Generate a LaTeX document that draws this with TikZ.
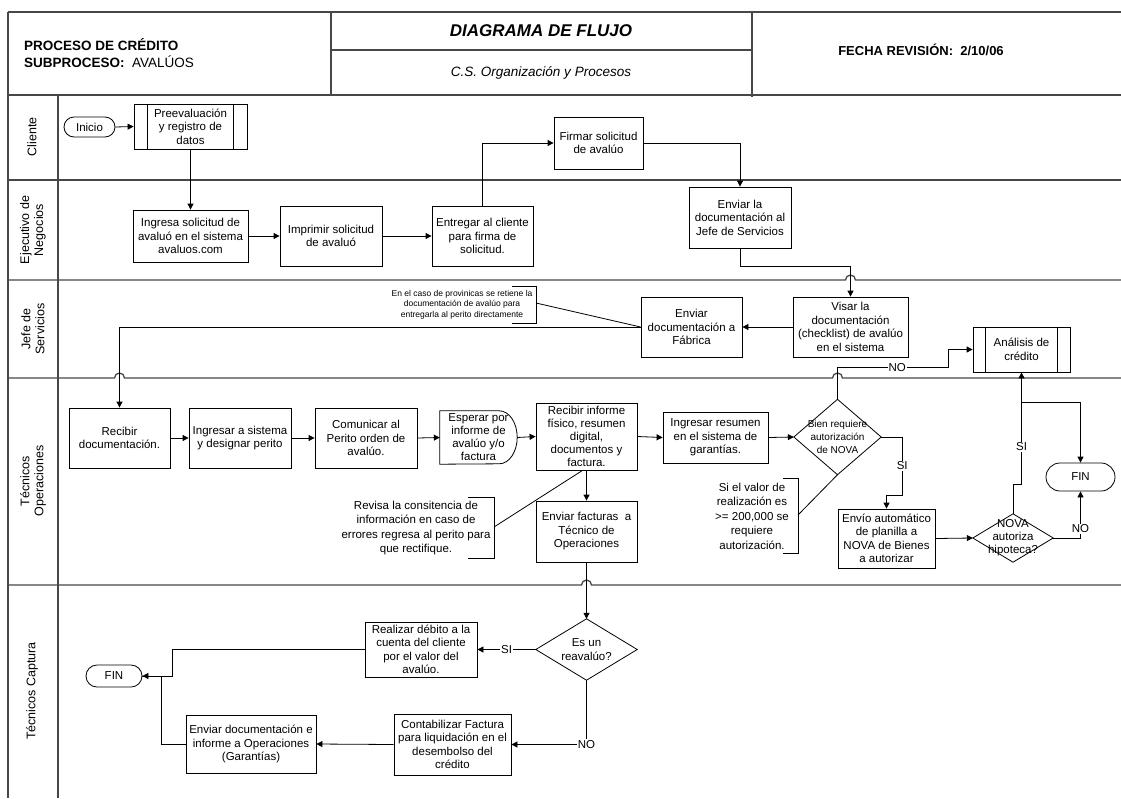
\documentclass[tikz,border=0pt]{standalone}
\usepackage{fontspec}
\setmainfont{Liberation Sans}
\usetikzlibrary{arrows.meta}
\newcommand{\myfs}[2]{\fontsize{#1pt}{#2pt}\selectfont}
% diamond outline drawn on the anchors of a plain node
\newcommand{\diamondof}[1]{\draw[shape line] (#1.north) -- (#1.east) -- (#1.south) -- (#1.west) -- cycle;}
% side bars of a predefined-process box
\newcommand{\sidebars}[2]{\draw[shape line] ([xshift=#2pt]#1.north west) -- ([xshift=#2pt]#1.south west)
  ([xshift=-#2pt]#1.north east) -- ([xshift=-#2pt]#1.south east);}
\begin{document}
\begin{tikzpicture}[x=1pt,y=-1pt,
  shape line/.style={line width=0.8pt, draw=black},
  frame/.style={line width=1.3pt, draw=black!72},
  box/.style={draw=black, line width=0.8pt, align=center, inner sep=0pt, font=\myfs{11.5}{13.5}},
  term/.style={box, rounded corners=10pt},
  plain/.style={align=center, inner sep=0pt, font=\myfs{10}{13}},
  arr/.style={draw=black, line width=0.8pt, -{Triangle[length=6pt,width=6pt]}},
  link/.style={draw=black, line width=0.8pt},
  lbl/.style={fill=white, inner sep=1pt, font=\myfs{11.5}{13}},
  lanelbl/.style={rotate=90, align=center, font=\myfs{12.5}{14}},
  note/.style={align=center, inner sep=0pt, font=\myfs{11.5}{14.5}}]

\useasboundingbox (0,0) rectangle (1121,798);

% ---------- header ----------
\draw[frame] (8,12) -- (1121,12);
\draw[frame] (8,12) -- (8,798);
\draw[frame] (331,12) -- (331,95);
\draw[frame] (752,12) -- (752,97);
\draw[frame] (331,50) -- (752,50);
\node[anchor=west, inner sep=0pt, font=\bfseries\myfs{13.5}{15}] (hproc) at (24,45) {PROCESO DE CRÉDITO};
\node[anchor=west, inner sep=0pt, font=\myfs{13.5}{15}] (hsub) at (24,62) {\textbf{SUBPROCESO:}\ \ AVALÚOS};
\node[font=\bfseries\itshape\myfs{17}{19}] (htitle) at (541,31) {DIAGRAMA DE FLUJO};
\node[font=\itshape\myfs{13.5}{15}] (horg) at (541,73) {C.S. Organización y Procesos};
\node[font=\bfseries\myfs{13}{15}] (hdate) at (921,50) {FECHA REVISIÓN:\ \ 2/10/06};

% ---------- swimlanes ----------
\draw[frame] (8,95) -- (1121,95);
\draw[frame] (8,180) -- (1121,180);
\draw[frame] (8,280) -- (845.5,280) arc[start angle=180,end angle=0,radius=5pt] -- (1121,280);
\draw[frame] (8,378) -- (114.5,378) arc[start angle=180,end angle=0,radius=5pt]
  -- (832.5,378) arc[start angle=180,end angle=0,radius=5pt] -- (1121,378);
\draw[frame] (8,585) -- (581.5,585) arc[start angle=180,end angle=0,radius=5pt] -- (1121,585);
\draw[frame] (58,95) -- (58,798);

\node[lanelbl] (l1) at (32,137) {Cliente};
\node[lanelbl] (l2) at (33,230) {Ejecutivo de\\Negocios};
\node[lanelbl] (l3) at (33,329) {Jefe de\\Servicios};
\node[lanelbl] (l4) at (33,481) {Técnicos\\Operaciones};
\node[lanelbl] (l5) at (32,691) {Técnicos Captura};

% ---------- Cliente ----------
\node[term, minimum width=51, minimum height=20] (ini) at (89.5,127) {Inicio};
\node[box, minimum width=113, minimum height=45] (pre) at (190.5,126.5) {Preevaluación\\y registro de\\datos};
\sidebars{pre}{14}
\node[box, minimum width=89, minimum height=52] (firm) at (598.5,143) {Firmar solicitud\\de avalúo};

% ---------- Ejecutivo de Negocios ----------
\node[box, minimum width=115, minimum height=52] (ingsol) at (190.5,236) {Ingresa solicitud de\\avaluó en el sistema\\avaluos.com};
\node[box, minimum width=102, minimum height=60] (impr) at (331,236) {Imprimir solicitud\\de avaluó};
\node[box, minimum width=101, minimum height=60] (entr) at (482.5,236) {Entregar al cliente\\para firma de\\solicitud.};
\node[box, minimum width=102, minimum height=61] (envj) at (740,217.5) {Enviar la\\documentación al\\Jefe de Servicios};

% ---------- Jefe de Servicios ----------
\node[box, minimum width=115, minimum height=60] (visar) at (850.5,327) {Visar la\\documentación\\(checklist) de avalúo\\en el sistema};
\node[box, minimum width=101, minimum height=60] (fab) at (691.5,327) {Enviar\\documentación a\\Fábrica};
\node[align=center, inner sep=0pt, font=\myfs{8.5}{10.3}] (nota1) at (462,304.5) {En el caso de provinicas se retiene la\\documentación de avalúo para\\entregarla al perito directamente};
\draw[link, line width=0.7pt] (512,286) -- (536,286) -- (536,323) -- (512,323);
\coordinate (n1) at (536,303);

% ---------- Tecnicos Operaciones ----------
\node[box, minimum width=101, minimum height=60] (recdoc) at (119.5,438) {Recibir\\documentación.};
\node[box, minimum width=102, minimum height=60] (ingsis) at (240,438) {Ingresar a sistema\\y designar perito};
\node[box, minimum width=102, minimum height=60] (comun) at (366,438) {Comunicar al\\Perito orden de\\avalúo.};
\node[align=center, inner sep=0pt, font=\myfs{11.5}{13}, minimum width=77, minimum height=53] (esp) at (478.5,437.5) {Esperar por\\informe de\\avalúo y/o\\factura};
\draw[shape line] (esp.north west) -- ([xshift=-18pt]esp.north east)
  arc[start angle=90,end angle=-90,x radius=18pt,y radius=26.5pt] -- (esp.south west) -- cycle;
\node[box, font=\myfs{11.5}{13}, minimum width=101, minimum height=67] (recinf) at (586.5,436.5) {Recibir informe\\físico, resumen\\digital,\\documentos y\\factura.};
\node[box, minimum width=105, minimum height=51] (ingres) at (715.5,437.5) {Ingresar resumen\\en el sistema de\\garantías.};
\node[plain, minimum width=87, minimum height=75] (bien) at (837.5,437) {Bien requiere\\autorización\\de NOVA};
\diamondof{bien}
\node[box, minimum width=97, minimum height=45] (anal) at (1021.5,349.5) {Análisis de\\crédito};
\sidebars{anal}{13}
\node[term, rounded corners=14pt, minimum width=69, minimum height=28] (fin1) at (1080.5,477) {FIN};
\node[plain, font=\myfs{11.5}{13}, minimum width=80, minimum height=48] (nova) at (1013,538) {NOVA\\autoriza\\hipoteca?};
\diamondof{nova}
\node[box, minimum width=97, minimum height=59] (envio) at (886.5,538.5) {Envío automático\\de planilla a\\NOVA de Bienes\\a autorizar};
\node[box, minimum width=101, minimum height=61] (envfact) at (586.5,531.5) {Enviar facturas\ \ a\\Técnico de\\Operaciones};
\node[note] (nota2) at (416,528) {Revisa la consitencia de\\información en caso de\\errores regresa al perito para\\que rectifique.};
\draw[link, line width=0.7pt] (468,497) -- (494,497) -- (494,558) -- (468,558);
\coordinate (n2) at (494,527);
\node[note] (nota3) at (752,516) {Si el valor de\\realización es\\>= 200,000 se\\requiere\\autorización.};
\draw[link, line width=0.7pt] (783,478) -- (798,478) -- (798,553) -- (783,553);
\coordinate (n3) at (798,515);

% ---------- Tecnicos Captura ----------
\node[plain, font=\myfs{11.5}{14}, minimum width=101, minimum height=61] (reav) at (586.5,649.5) {Es un\\reavalúo?};
\diamondof{reav}
\node[box, minimum width=112, minimum height=55] (real) at (421,649.5) {Realizar débito a la\\cuenta del cliente\\por el valor del\\avalúo.};
\node[box, minimum width=117, minimum height=61] (contab) at (452.5,744.5) {Contabilizar Factura\\para liquidación en el\\desembolso del\\crédito};
\node[box, minimum width=130, minimum height=58] (envdoc) at (251,744) {Enviar documentación e\\informe a Operaciones\\(Garantías)};
\node[term, rounded corners=11pt, minimum width=56, minimum height=22] (fin2) at (114,676) {FIN};

% ---------- connectors ----------
\draw[arr] (ini.east) -- (pre.west);
\draw[arr] (pre.south) -- (ingsol.north);
\draw[arr] (ingsol.east) -- (impr.west);
\draw[arr] (impr.east) -- (entr.west);
\draw[arr] (entr.north) |- (firm.west);
\draw[arr] (firm.east) -| (envj.north);
\draw[arr] (envj.south) -- ++(0,18) -| (visar.north);
\draw[arr] (visar.west) -- (fab.east);
\draw[link] (n1) -- (fab.west);
\draw[arr] (fab.west) -| (recdoc.north);
\draw[arr] (recdoc.east) -- (ingsis.west);
\draw[arr] (ingsis.east) -- (comun.west);
\draw[arr] (comun.east) -- (esp.west);
\draw[arr] (esp.east) -- (recinf.west);
\draw[arr] (recinf.east) -- (ingres.west);
\draw[arr] (ingres.east) -- (bien.west);
\draw[link] (n2) -- ([xshift=-4pt]recinf.south);
\draw[arr] (recinf.south) -- (envfact.north);
\draw[link] (n3) -- (bien.south);
\draw[arr] (bien.east) -| node[lbl, pos=0.75] {SI} ++(21,58) -| (envio.north);
\draw[arr] (bien.north) |- node[lbl, pos=0.77] {NO} ++(110.5,-32) |- (anal.west);
\draw[arr] (envio.east) -- (nova.west);
\draw[arr] (nova.north) -- ++(0,-29) -| node[lbl, pos=0.67] {SI} (anal.south);
\coordinate (split) at ([yshift=-30pt]anal.south);
\draw[arr] (split) -| (fin1.north);
\draw[arr] (nova.east) -| node[lbl, pos=0.6] {NO} (fin1.south);
\draw[arr] (envfact.south) -- (reav.north);
\draw[arr] (reav.west) -- node[lbl] {SI} (real.east);
\draw[arr] (reav.south) |- node[lbl, pos=0.5] {NO} (contab.east);
\draw[arr] (contab.west) -- (envdoc.east);
\draw[arr] (real.west) -- ++(-192,0) |- (fin2.east);
\draw[link] (envdoc.west) -- ++(-24,0) |- (fin2.east);
\end{tikzpicture}
\end{document}
